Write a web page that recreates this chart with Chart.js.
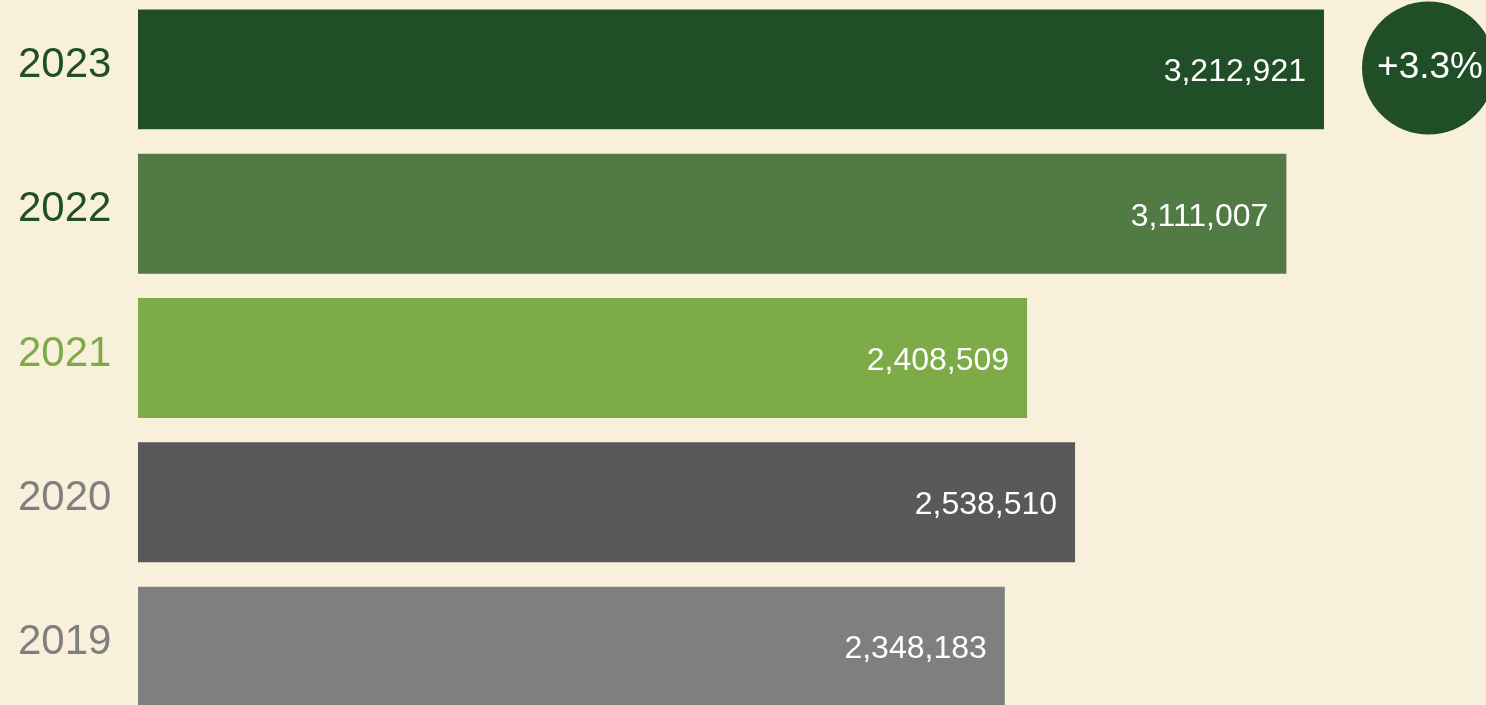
<!DOCTYPE html>
<html>
<head>
<meta charset="utf-8">
<script src="https://cdn.jsdelivr.net/npm/chart.js@4/dist/chart.umd.min.js"></script>
<style>
  html, body { margin: 0; padding: 0; width: 1486px; height: 705px; overflow: hidden; background: #F9F0DC; }
  #wrap { position: absolute; left: 0; top: -3px; width: 1486px; height: 722px; }
  canvas { display: block; }
</style>
</head>
<body>
<div id="wrap"><canvas id="c" width="1486" height="722"></canvas></div>
<script>
const years = ["2023", "2022", "2021", "2020", "2019"];
const values = [3212921, 3111007, 2408509, 2538510, 2348183];
const barColors = ["#1F4E27", "#527A45", "#7DAB48", "#595959", "#7F7F7F"];
const labelColors = ["#1F4E27", "#1F4E27", "#7DAB48", "#7F7F7F", "#7F7F7F"];
const badgeColor = "#1F4E27";
const FONT = "'Liberation Sans', Arial, Helvetica, sans-serif";

const change = (values[0] - values[1]) / values[1] * 100;
const changeText = (change >= 0 ? "+" : "") + change.toFixed(1) + "%";

const valueLabels = {
  id: "valueLabels",
  afterDatasetsDraw(chart) {
    const ctx = chart.ctx;
    const meta = chart.getDatasetMeta(0);
    ctx.save();
    ctx.font = "32px " + FONT;
    ctx.fillStyle = "#FFFFFF";
    ctx.textAlign = "right";
    ctx.textBaseline = "middle";
    meta.data.forEach((bar, i) => {
      ctx.fillText(values[i].toLocaleString("en-US"), bar.x - 18, bar.y + 3);
    });
    // change badge next to the latest bar
    const top = meta.data[0];
    const cx = chart.chartArea.right + 104.5;
    const cy = top.y - 1.3;
    ctx.beginPath();
    ctx.arc(cx, cy, 66.5, 0, Math.PI * 2);
    ctx.fillStyle = badgeColor;
    ctx.fill();
    ctx.font = "37px " + FONT;
    ctx.fillStyle = "#FFFFFF";
    ctx.textAlign = "center";
    ctx.fillText(changeText, cx + 1.5, cy);
    ctx.restore();
  }
};

new Chart(document.getElementById("c"), {
  type: "bar",
  data: {
    labels: years,
    datasets: [{
      data: values,
      backgroundColor: barColors,
      borderWidth: 0,
      barPercentage: 0.831,
      categoryPercentage: 1.0
    }]
  },
  options: {
    indexAxis: "y",
    responsive: false,
    animation: false,
    devicePixelRatio: 1,
    layout: { padding: { left: 18, right: 162, top: 0, bottom: 0 } },
    plugins: { legend: { display: false }, tooltip: { enabled: false } },
    scales: {
      x: {
        display: false,
        min: 0,
        max: values[0]
      },
      y: {
        grid: { display: false, drawTicks: false },
        border: { display: false },
        afterFit(scale) { scale.width = 120; },
        ticks: {
          padding: 0,
          crossAlign: "far",
          labelOffset: -4,
          color: (c) => labelColors[c.index],
          font: { size: 42, family: FONT, lineHeight: 0.01 }
        }
      }
    }
  },
  plugins: [valueLabels]
});
</script>
</body>
</html>
